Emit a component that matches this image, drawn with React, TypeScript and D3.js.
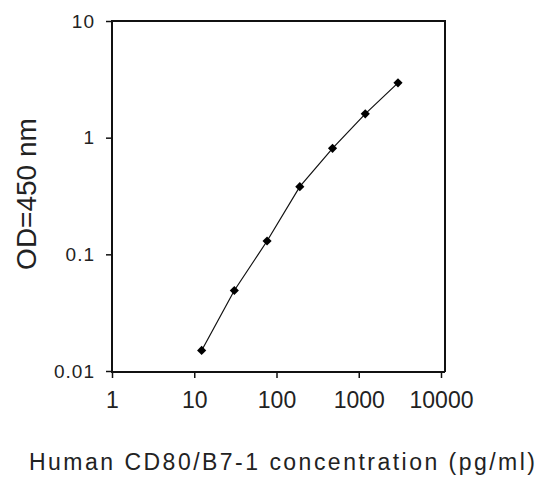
import React, { useRef, useEffect } from "react";
import * as d3 from "d3";

// standard curve
const concentrations = [12.3, 30.7, 76.8, 192, 480, 1200, 3000];
const odValues = [0.015, 0.049, 0.13, 0.38, 0.81, 1.6, 2.95];
const xTicks = [1, 10, 100, 1000, 10000];
const yTicks = [0.01, 0.1, 1, 10];
const xTickLabels = ["1", "10", "100", "1000", "10000"];
const yTickLabels = ["0.01", "0.1", "1", "10"];

const App = () => {
  const chartRef = useRef(null);

  useEffect(() => {
    const container = d3.select(chartRef.current);
    container.selectAll("*").remove();

    const width = 536;
    const height = 481;

    const svg = container
      .append("svg")
      .attr("width", width)
      .attr("height", height)
      .style("position", "absolute")
      .style("left", "0px")
      .style("top", "0px")
      .style("background", "#fff");

    const xScale = d3.scaleLog().domain([1, 10000]).range([112, 441]);
    const yScale = d3.scaleLog().domain([0.01, 10]).range([371, 21]);

    const font = "'Liberation Sans', Arial, sans-serif";

    // frame (top + right)
    svg
      .append("path")
      .attr("d", `M112,21H445V372`)
      .attr("fill", "none")
      .attr("stroke", "#111")
      .attr("stroke-width", 2);

    // x axis
    const xAxis = d3
      .axisBottom(xScale)
      .tickValues(xTicks)
      .tickSize(6)
      .tickPadding(14)
      .tickFormat((d, i) => xTickLabels[i]);

    const gx = svg
      .append("g")
      .attr("transform", `translate(0, 372)`)
      .call(xAxis);
    gx.select(".domain").attr("d", "M111,0H445").attr("stroke", "#111").attr("stroke-width", 2);
    gx.selectAll(".tick line").attr("stroke", "#111").attr("stroke-width", 1.5);
    gx.selectAll(".tick text")
      .attr("fill", "#222")
      .style("font-family", font)
      .style("font-size", "23px")
      .attr("dy", "0.71em");

    // y axis
    const yAxis = d3
      .axisLeft(yScale)
      .tickValues(yTicks)
      .tickSize(6)
      .tickPadding(11)
      .tickFormat((d, i) => yTickLabels[i]);

    const gy = svg
      .append("g")
      .attr("transform", `translate(112, 0)`)
      .call(yAxis);
    gy.select(".domain").attr("d", "M0,20V373").attr("stroke", "#111").attr("stroke-width", 2);
    gy.selectAll(".tick line").attr("stroke", "#111").attr("stroke-width", 1.5);
    gy.selectAll(".tick text")
      .attr("fill", "#222")
      .style("font-family", font)
      .style("font-size", "19px")
      .style("letter-spacing", "1px");

    // data line
    const pts = concentrations.map((c, i) => [c, odValues[i]]);
    const line = d3
      .line()
      .x((d: any) => xScale(d[0]))
      .y((d: any) => yScale(d[1]));

    svg
      .append("path")
      .datum(pts)
      .attr("d", line as any)
      .attr("fill", "none")
      .attr("stroke", "#111")
      .attr("stroke-width", 1.2);

    // markers (square turned into a diamond)
    svg
      .selectAll(".pt")
      .data(pts)
      .enter()
      .append("path")
      .attr("class", "pt")
      .attr("d", d3.symbol().type(d3.symbolSquare).size(42) as any)
      .attr("transform", (d: any) => `translate(${xScale(d[0])}, ${yScale(d[1])}) rotate(45)`)
      .attr("fill", "#000");

    // axis titles
    svg
      .append("text")
      .attr("x", 29)
      .attr("y", 470)
      .attr("textLength", 506)
      .attr("lengthAdjust", "spacing")
      .style("font-family", font)
      .style("font-size", "23px")
      .attr("fill", "#222")
      .text("Human CD80/B7-1 concentration (pg/ml)");

    svg
      .append("text")
      .attr("transform", "translate(36, 194) rotate(-90)")
      .attr("text-anchor", "middle")
      .style("font-family", font)
      .style("font-size", "28px")
      .attr("fill", "#222")
      .text("OD=450 nm");
  }, []);

  return <div ref={chartRef} />;
};

export default App;
